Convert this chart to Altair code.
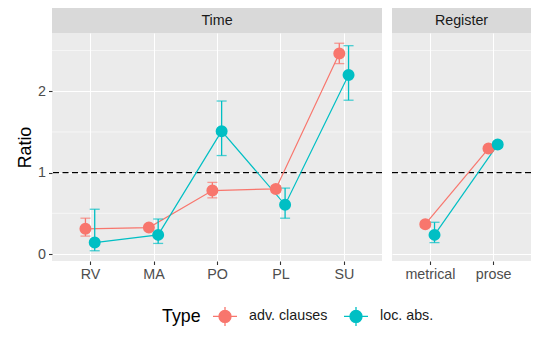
import altair as alt
import pandas as pd

# ---- data ----
time_cats = ["RV", "MA", "PO", "PL", "SU"]
reg_cats = ["metrical", "prose"]
types = ["adv. clauses", "loc. abs."]
colors = ["#F8766D", "#00BFC4"]

adv_time = [0.31, 0.325, 0.78, 0.80, 2.465]
adv_time_lo = [0.22, 0.29, 0.69, 0.76, 2.34]
adv_time_hi = [0.44, 0.36, 0.88, 0.84, 2.59]
loc_time = [0.14, 0.235, 1.51, 0.605, 2.20]
loc_time_lo = [0.04, 0.13, 1.21, 0.44, 1.89]
loc_time_hi = [0.55, 0.43, 1.88, 0.81, 2.56]

adv_reg = [0.366, 1.296]
adv_reg_lo = [0.33, 1.27]
adv_reg_hi = [0.40, 1.32]
loc_reg = [0.235, 1.345]
loc_reg_lo = [0.14, 1.31]
loc_reg_hi = [0.39, 1.38]

y_ticks = [0, 1, 2]
ref_value = 1


def frame(cats, series):
    rows = []
    for t, (vals, lo, hi) in series.items():
        for i, c in enumerate(cats):
            rows.append({"cat": c, "idx": i, "Type": t,
                         "ratio": vals[i], "lo": lo[i], "hi": hi[i]})
    return pd.DataFrame(rows)


time_df = frame(time_cats, {types[0]: (adv_time, adv_time_lo, adv_time_hi),
                            types[1]: (loc_time, loc_time_lo, loc_time_hi)})
reg_df = frame(reg_cats, {types[0]: (adv_reg, adv_reg_lo, adv_reg_hi),
                          types[1]: (loc_reg, loc_reg_lo, loc_reg_hi)})

FONT = "Liberation Sans"
LBL = 14.3
TTL = 17.8
yscale = alt.Scale(domain=[-0.086, 2.716], nice=False, zero=False)
cscale = alt.Scale(domain=types, range=colors)

sym_path = ("M-1.2,0L1.2,0M0,-0.95L0,0.95"
            "M-0.6,0A0.6,0.6 0 1,0 0.6,0A0.6,0.6 0 1,0 -0.6,0Z")
legend = alt.Legend(
    title="Type", orient="none", legendX=110, legendY=272,
    direction="horizontal", titleOrient="left", titleFontSize=TTL,
    titleFontWeight="normal", titleColor="black", titlePadding=13,
    titleFont=FONT, labelFont=FONT,
    labelFontSize=LBL, labelColor="#1A1A1A", symbolType=sym_path,
    symbolSize=400, symbolStrokeWidth=1.3, labelOffset=13, columnPadding=13,
)


def panel(df, cats, label, width, show_y):
    n = len(cats)
    xscale = alt.Scale(domain=[-0.6, n - 1 + 0.6], nice=False, zero=False)
    label_expr = "[" + ",".join(f"'{c}'" for c in cats) + "][datum.value]"
    xaxis = alt.Axis(values=list(range(n)), labelExpr=label_expr, title=None,
                     grid=True, gridColor="white", gridWidth=1.1, domain=False,
                     tickColor="#333333", tickSize=3.5, tickWidth=1.1,
                     labelColor="#4D4D4D", labelFontSize=LBL, labelPadding=3,
                     labelFont=FONT)
    if show_y:
        yaxis = alt.Axis(values=y_ticks, title="Ratio", titleFontSize=TTL,
                         titleFontWeight="normal", titleColor="black",
                         titlePadding=3, titleFont=FONT,
                         grid=True, gridColor="white", gridWidth=1.1,
                         domain=False, tickColor="#333333", tickSize=3.5,
                         tickWidth=1.1, labelColor="#4D4D4D",
                         labelFontSize=LBL, labelPadding=3, labelFont=FONT)
    else:
        yaxis = alt.Axis(values=y_ticks, title=None, labels=False, ticks=False,
                         domain=False, grid=True, gridColor="white",
                         gridWidth=1.1)

    base = alt.Chart(df).transform_calculate(
        xpos="datum.idx + (datum.Type == '%s' ? -0.073 : 0.073)" % types[0]
    )
    X = alt.X("xpos:Q", scale=xscale, axis=xaxis)
    stroke = alt.Stroke("Type:N", scale=cscale, legend=legend)
    fill = alt.Fill("Type:N", scale=cscale, legend=legend)

    strip_df = pd.DataFrame({"s": [label]})
    strip = alt.Chart(strip_df).mark_rect(color="#D9D9D9").encode(
        x=alt.value(0), x2=alt.value("width"), y=alt.value(-25), y2=alt.value(0))
    strip_txt = alt.Chart(strip_df).mark_text(
        fontSize=LBL, color="#1A1A1A", baseline="middle", font=FONT).encode(
        x=alt.value(width / 2), y=alt.value(-12), text="s:N")

    minor_df = pd.DataFrame({"v": [t + 0.5 for t in y_ticks]})
    minor = alt.Chart(minor_df).mark_rule(color="white", strokeWidth=0.55).encode(
        y=alt.Y("v:Q", scale=yscale, axis=yaxis))

    dashed = alt.Chart(strip_df).mark_rule(
        color="black", strokeDash=[6, 3.5], strokeWidth=1.2).encode(
        y=alt.YDatum(ref_value, scale=yscale, axis=yaxis))

    lines = base.mark_line(strokeWidth=1.2).encode(
        x=X, y=alt.Y("ratio:Q", scale=yscale, axis=yaxis), stroke=stroke,
        detail="Type:N")
    bars = base.mark_rule(strokeWidth=1.3).encode(
        x=X, y=alt.Y("lo:Q", scale=yscale, axis=yaxis), y2="hi:Q",
        stroke=stroke)
    caps = base.transform_fold(["lo", "hi"], as_=["k", "v"]).mark_tick(
        orient="horizontal", size=10, thickness=1.3).encode(
        x=X, y=alt.Y("v:Q", scale=yscale, axis=yaxis), fill=fill)
    pts = base.mark_circle(size=100, opacity=1).encode(
        x=X, y=alt.Y("ratio:Q", scale=yscale, axis=yaxis),
        fill=fill, stroke=stroke)

    return alt.layer(strip, strip_txt, minor, dashed, lines, bars, caps, pts
                     ).properties(width=width, height=228)


time_panel = panel(time_df, time_cats, "Time", 330, True)
reg_panel = panel(reg_df, reg_cats, "Register", 139, False)

chart = alt.hconcat(time_panel, reg_panel, spacing=10, bounds="flush").properties(
    padding={"left": 8, "top": 0, "right": 0, "bottom": 0},
    background="white",
).configure(font=FONT).configure_view(stroke=None, fill="#EBEBEB")

chart.save("out.html", embed_options={"renderer": "svg", "actions": False})
